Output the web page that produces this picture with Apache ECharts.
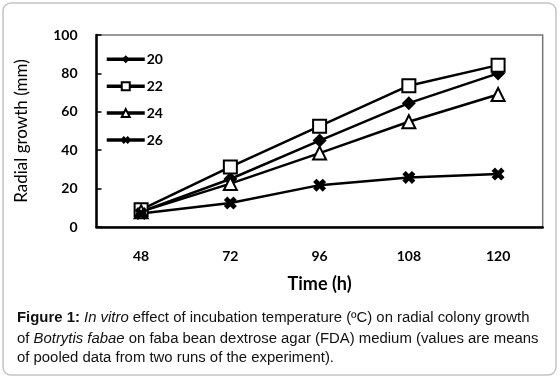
<!DOCTYPE html>
<html>
<head>
<meta charset="utf-8">
<script src="https://cdn.jsdelivr.net/npm/echarts@6/dist/echarts.min.js"></script>
<style>
html,body{margin:0;padding:0;background:#fff;}
#chart{width:560px;height:382px;}
</style>
</head>
<body>
<div id="chart"></div>
<script>
const categories = ['48', '72', '96', '108', '120'];
const seriesNames = ['20', '22', '24', '26'];
const t20 = [8, 25, 45, 64.5, 80];
const t22 = [9, 31.3, 52.5, 73.6, 84.3];
const t24 = [8, 22.6, 38.5, 54.8, 69];
const t26 = [7, 12.5, 21.8, 25.8, 27.6];
const yTicks = { min: 0, max: 100, interval: 20 };

const xShape = 'path://M0,2.6 L2.6,0 L5,2.4 L7.4,0 L10,2.6 L7.6,5 L10,7.4 L7.4,10 L5,7.6 L2.6,10 L0,7.4 L2.4,5 Z';
const font = 'Lato, "Open Sans", sans-serif';
const capFont = '"Liberation Sans", Arial, sans-serif';

function mk(name, data, symbol, size, fill) {
  const solid = symbol === 'diamond' || symbol === xShape;
  return {
    name: name, type: 'line', data: data,
    symbol: symbol, symbolSize: size,
    lineStyle: { color: '#000', width: 2.5 },
    itemStyle: { color: fill, borderColor: '#000', borderWidth: solid ? 0 : 2 },
    emphasis: { disabled: true },
    animation: false
  };
}

const chart = echarts.init(document.getElementById('chart'));
chart.setOption({
  animation: false,
  grid: { left: 96.5, top: 35, right: 17.3, bottom: 155, show: true, borderColor: '#777', borderWidth: 1.5 },
  legend: {
    orient: 'vertical', left: 100, top: 47.3,
    itemWidth: 38, itemHeight: 10, itemGap: 12.9,
    lineStyle: { width: 3.5, color: '#000' },
    textStyle: { fontFamily: font, fontWeight: 'bold', fontSize: 14, color: '#000', padding: [0, 0, 0, -3] },
    data: seriesNames
  },
  xAxis: {
    type: 'category', data: categories, boundaryGap: true,
    name: 'Time (h)', nameLocation: 'middle', nameGap: 48,
    nameTextStyle: { fontFamily: font, fontWeight: 'bold', fontSize: 18, color: '#000' },
    axisLine: { lineStyle: { color: '#000', width: 2.5 } },
    axisTick: { inside: true, length: 5, lineStyle: { color: '#000', width: 1.5 } },
    axisLabel: { fontFamily: font, fontWeight: 'bold', fontSize: 14, color: '#000', margin: 22 },
    splitLine: { show: false }
  },
  yAxis: {
    type: 'value', min: yTicks.min, max: yTicks.max, interval: yTicks.interval,
    name: 'Radial growth (mm)', nameLocation: 'middle', nameGap: 66,
    nameTextStyle: { fontFamily: font, fontSize: 17, color: '#000' },
    axisLine: { show: true, lineStyle: { color: '#000', width: 2.5 } },
    axisTick: { show: true, inside: true, length: 5, lineStyle: { color: '#000', width: 1.5 } },
    axisLabel: { fontFamily: font, fontWeight: 'bold', fontSize: 14, color: '#000', margin: 19 },
    splitLine: { show: false }
  },
  series: [
    mk(seriesNames[0], t20, 'diamond', 14, '#000'),
    mk(seriesNames[1], t22, 'rect', 13, '#fff'),
    mk(seriesNames[2], t24, 'triangle', 13, '#fff'),
    mk(seriesNames[3], t26, xShape, 13, '#000')
  ],
  graphic: [
    { type: 'rect', shape: { x: 3, y: 3, width: 553, height: 372, r: 8 }, style: { fill: 'none', stroke: '#c4c4c4', lineWidth: 1.5 }, z: -1 },
    { type: 'text', x: 17, y: 318, style: {
        text: '{b|Figure 1:} {i|In vitro} effect of incubation temperature (ºC) on radial colony growth',
        verticalAlign: 'middle', font: '14.9px ' + capFont, fill: '#111',
        rich: { b: { fontWeight: 'bold', fontSize: 14.9, fontFamily: capFont, fill: '#111' }, i: { fontStyle: 'italic', fontSize: 14.9, fontFamily: capFont, fill: '#111' } }
    } },
    { type: 'text', x: 17, y: 338.5, style: {
        text: 'of {i|Botrytis fabae} on faba bean dextrose agar (FDA) medium (values are means',
        verticalAlign: 'middle', font: '14.9px ' + capFont, fill: '#111',
        rich: { i: { fontStyle: 'italic', fontSize: 14.9, fontFamily: capFont, fill: '#111' } }
    } },
    { type: 'text', x: 17, y: 358, style: {
        text: 'of pooled data from two runs of the experiment).',
        verticalAlign: 'middle', font: '14.9px ' + capFont, fill: '#111'
    } }
  ]
});
</script>
</body>
</html>
